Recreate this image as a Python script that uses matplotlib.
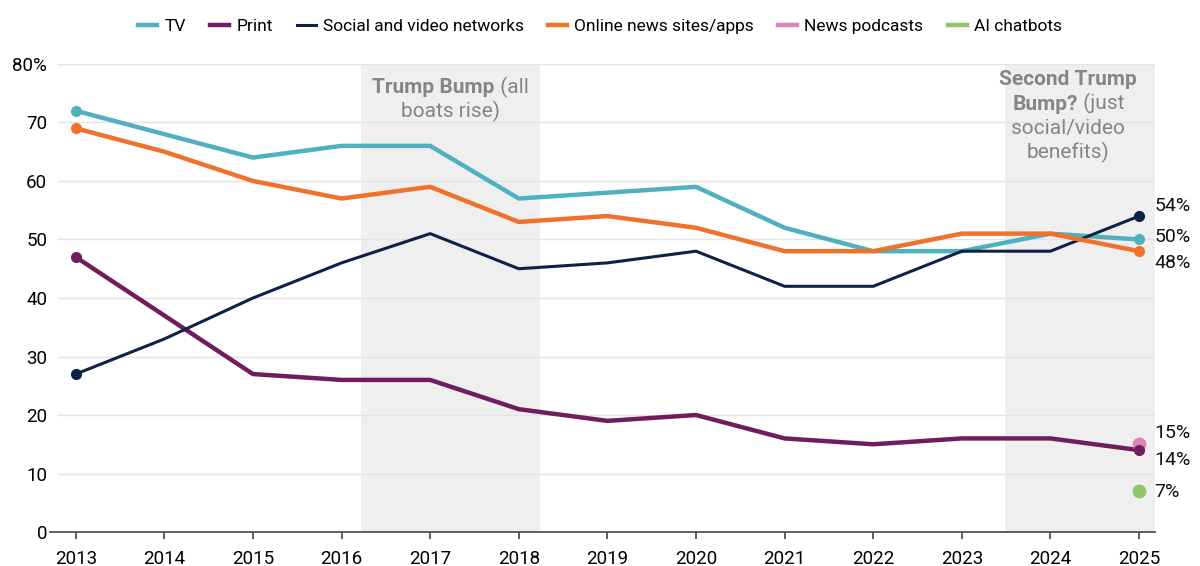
import matplotlib
matplotlib.use("Agg")
import matplotlib.pyplot as plt

plt.rcParams['font.family'] = ['Roboto', 'DejaVu Sans']

years = list(range(2013, 2026))
tv = [72, 68, 64, 66, 66, 57, 58, 59, 52, 48, 48, 51, 50]
print_ = [47, 37, 27, 26, 26, 21, 19, 20, 16, 15, 16, 16, 14]
social = [27, 33, 40, 46, 51, 45, 46, 48, 42, 42, 48, 48, 54]
online = [69, 65, 60, 57, 59, 53, 54, 52, 48, 48, 51, 51, 48]
podcasts_2025 = 15
ai_2025 = 7

c_tv = '#4fb1bf'
c_print = '#6f1d5c'
c_social = '#0e2246'
c_online = '#f0712c'
c_pod = '#de82ba'
c_ai = '#90c56f'

fig = plt.figure(figsize=(12, 5.66), dpi=100)
ax = fig.add_axes([0.0417, 0.06, 0.9208, 0.827])

ax.set_xlim(2012.71, 2025.18)
ax.set_ylim(0, 80)

# shaded bands
ax.axvspan(2016.22, 2018.24, color='#efefef', zorder=0, lw=0)
ax.axvspan(2023.49, 2025.18, color='#efefef', zorder=0, lw=0)

# grid
for v in range(10, 90, 10):
    ax.axhline(v, xmin=0.007, color='#e3e3e3', lw=1, zorder=0.5)

lw = 3.2
ax.plot(years, tv, color=c_tv, lw=lw, label='TV', zorder=3)
ax.plot(years, print_, color=c_print, lw=lw, label='Print', zorder=3)
ax.plot(years, social, color=c_social, lw=2.2, label='Social and video networks', zorder=3)
ax.plot(years, online, color=c_online, lw=lw, label='Online news sites/apps', zorder=3)
ax.plot([], [], color=c_pod, lw=lw, label='News podcasts')
ax.plot([], [], color=c_ai, lw=lw, label='AI chatbots')

for ser, c in [(tv, c_tv), (print_, c_print), (social, c_social), (online, c_online)]:
    ax.plot([years[0], years[-1]], [ser[0], ser[-1]], 'o', color=c, ms=7, zorder=4)
ax.plot([years[-1]], [podcasts_2025], 'o', color=c_pod, ms=9, zorder=3.5)
ax.plot([years[-1]], [ai_2025], 'o', color=c_ai, ms=9, zorder=3.5)

# end labels
lab_fs = 14
for yv, txt in [(55.8, '54%'), (50.5, '50%'), (46.0, '48%'),
                (16.9, '15%'), (12.3, '14%'), (6.9, '7%')]:
    ax.text(2025.17, yv, txt, fontsize=lab_fs, va='center', ha='left', color='#111111', clip_on=False)

# axes style
for s in ['left', 'right', 'top']:
    ax.spines[s].set_visible(False)
ax.spines['bottom'].set_color('#444444')
ax.spines['bottom'].set_linewidth(1.2)
ax.set_xticks(years)
ax.set_xticklabels([str(y) for y in years], fontsize=13.5)
ax.set_yticks(range(0, 90, 10))
ax.set_yticklabels(['0', '10', '20', '30', '40', '50', '60', '70', '80%'], fontsize=13.5)
ax.tick_params(axis='y', length=0, pad=2)
ax.tick_params(axis='x', length=5, width=1.2, color='#444444', pad=8)

# annotations with mixed bold/regular
fig.canvas.draw()
renderer = fig.canvas.get_renderer()
gray = '#858585'
afs = 15

def line(xc, y, pieces):
    widths = []
    for t, w in pieces:
        o = ax.text(0, 0, t, fontsize=afs, fontweight=w, color=gray)
        bb = o.get_window_extent(renderer)
        widths.append(bb.width)
        o.remove()
    total = sum(widths)
    px, py = ax.transData.transform((xc, y))
    start = px - total / 2
    for (t, w), wd in zip(pieces, widths):
        xd, yd = ax.transData.inverted().transform((start, py))
        ax.text(xd, yd, t, fontsize=afs, fontweight=w, color=gray, va='baseline', ha='left')
        start += wd

line(2017.23, 75.0, [('Trump Bump', 'bold'), (' (all', 'normal')])
line(2017.23, 70.8, [('boats rise)', 'normal')])
line(2024.2, 76.4, [('Second Trump', 'bold')])
line(2024.2, 72.2, [('Bump?', 'bold'), (' (just', 'normal')])
line(2024.2, 68.0, [('social/video', 'normal')])
line(2024.2, 63.8, [('benefits)', 'normal')])

fig.legend(loc='upper center', bbox_to_anchor=(0.5, 0.995), ncol=6, frameon=False,
           fontsize=12.5, handlelength=1.1, handletextpad=0.4, columnspacing=1.4)

fig.savefig('out.png', dpi=100)
